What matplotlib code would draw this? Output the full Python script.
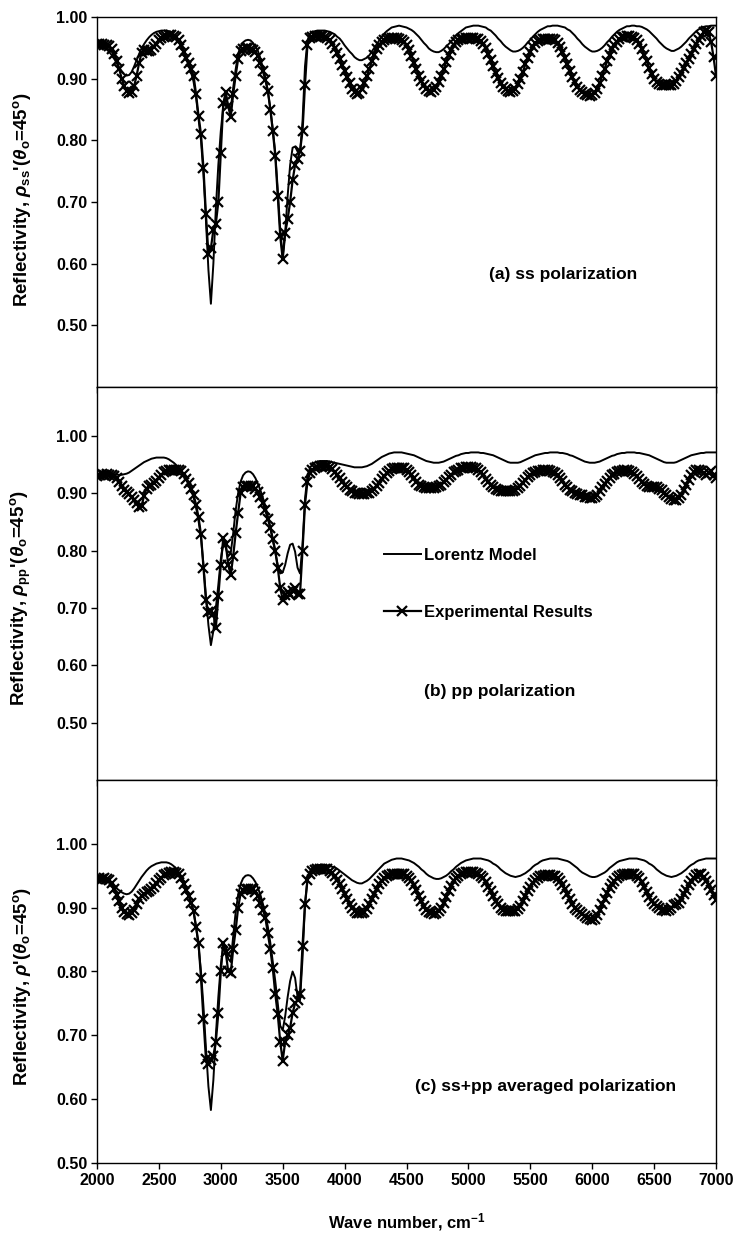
import numpy as np
import matplotlib
matplotlib.use("Agg")
import matplotlib.pyplot as plt
from matplotlib.ticker import FormatStrFormatter

plt.rcParams['font.family'] = ['Liberation Sans', 'DejaVu Sans']
plt.rcParams['font.weight'] = 'bold'
plt.rcParams['mathtext.fontset'] = 'custom'
plt.rcParams['mathtext.rm'] = 'Liberation Sans'
plt.rcParams['mathtext.it'] = 'Liberation Sans:italic'
plt.rcParams['mathtext.bf'] = 'Liberation Sans:bold'

# Wave numbers (cm^-1), sampled every 20 cm^-1
WAVE = np.arange(2000, 7001, 20)

# ---------- (a) ss polarization ----------
EXP_SS = [
    0.957, 0.957, 0.956, 0.955, 0.955, 0.953, 0.948, 0.940, 0.928, 0.915,
    0.900, 0.888, 0.880, 0.877, 0.878, 0.888, 0.905, 0.925, 0.942, 0.946,
    0.945, 0.945, 0.947, 0.952, 0.957, 0.962, 0.966, 0.968, 0.970, 0.971,
    0.971, 0.970, 0.968, 0.962, 0.955, 0.944, 0.933, 0.925, 0.915, 0.905,
    0.875, 0.840, 0.810, 0.755, 0.680, 0.615, 0.625, 0.655, 0.665, 0.700,
    0.780, 0.860, 0.878, 0.855, 0.838, 0.875, 0.905, 0.932, 0.945, 0.948,
    0.949, 0.949, 0.948, 0.947, 0.944, 0.937, 0.925, 0.912, 0.898, 0.880,
    0.850, 0.815, 0.775, 0.710, 0.645, 0.607, 0.650, 0.672, 0.700, 0.735,
    0.760, 0.770, 0.782, 0.815, 0.890, 0.955, 0.966, 0.968, 0.969, 0.970,
    0.970, 0.969, 0.968, 0.966, 0.962, 0.957, 0.950, 0.942, 0.932, 0.922,
    0.912, 0.902, 0.893, 0.884, 0.878, 0.875, 0.877, 0.884, 0.893, 0.904,
    0.916, 0.928, 0.939, 0.948, 0.955, 0.960, 0.963, 0.965, 0.966, 0.966,
    0.966, 0.966, 0.965, 0.963, 0.959, 0.954, 0.946, 0.937, 0.926, 0.915,
    0.905, 0.896, 0.889, 0.884, 0.880, 0.879, 0.881, 0.886, 0.894, 0.904,
    0.915, 0.927, 0.938, 0.947, 0.954, 0.959, 0.962, 0.964, 0.965, 0.966,
    0.966, 0.966, 0.966, 0.965, 0.964, 0.961, 0.956, 0.949, 0.940, 0.930,
    0.920, 0.910, 0.901, 0.893, 0.887, 0.883, 0.880, 0.879, 0.880, 0.884,
    0.891, 0.900, 0.911, 0.923, 0.934, 0.944, 0.952, 0.958, 0.961, 0.963,
    0.964, 0.965, 0.965, 0.965, 0.964, 0.962, 0.958, 0.952, 0.944, 0.934,
    0.923, 0.912, 0.902, 0.894, 0.887, 0.882, 0.878, 0.875, 0.873, 0.872,
    0.873, 0.877, 0.884, 0.893, 0.904, 0.916, 0.928, 0.939, 0.948, 0.955,
    0.960, 0.964, 0.967, 0.968, 0.969, 0.969, 0.968, 0.966, 0.962, 0.956,
    0.948, 0.938, 0.928, 0.918, 0.908, 0.900, 0.895, 0.892, 0.890, 0.889,
    0.889, 0.890, 0.890, 0.892, 0.896, 0.903, 0.910, 0.918, 0.925, 0.932,
    0.940, 0.948, 0.956, 0.963, 0.970, 0.975, 0.977, 0.975, 0.960, 0.935,
    0.905,
]
MODEL_SS = [
    0.955, 0.954, 0.952, 0.950, 0.947, 0.943, 0.938, 0.932, 0.925, 0.918,
    0.912, 0.907, 0.905, 0.906, 0.911, 0.920, 0.930, 0.940, 0.949, 0.956,
    0.962, 0.967, 0.971, 0.974, 0.976, 0.977, 0.978, 0.978, 0.978, 0.977,
    0.975, 0.972, 0.967, 0.960, 0.952, 0.942, 0.932, 0.922, 0.910, 0.895,
    0.870, 0.835, 0.800, 0.745, 0.670, 0.590, 0.535, 0.600, 0.690, 0.760,
    0.815, 0.855, 0.870, 0.855, 0.850, 0.885, 0.915, 0.940, 0.953, 0.959,
    0.962, 0.963, 0.962, 0.958, 0.952, 0.945, 0.932, 0.918, 0.902, 0.880,
    0.852, 0.818, 0.780, 0.720, 0.655, 0.612, 0.650, 0.710, 0.760, 0.788,
    0.790, 0.782, 0.780, 0.830, 0.920, 0.962, 0.973, 0.976, 0.977, 0.978,
    0.978, 0.978, 0.978, 0.977, 0.976, 0.974, 0.972, 0.968, 0.965, 0.960,
    0.954, 0.949, 0.944, 0.940, 0.935, 0.932, 0.930, 0.930, 0.932, 0.934,
    0.938, 0.944, 0.950, 0.956, 0.962, 0.968, 0.973, 0.977, 0.980, 0.983,
    0.984, 0.985, 0.986, 0.985, 0.984, 0.983, 0.981, 0.979, 0.976, 0.972,
    0.968, 0.963, 0.958, 0.954, 0.949, 0.946, 0.944, 0.943, 0.943, 0.945,
    0.948, 0.952, 0.956, 0.960, 0.965, 0.970, 0.974, 0.977, 0.980, 0.983,
    0.984, 0.985, 0.986, 0.986, 0.986, 0.985, 0.984, 0.983, 0.980, 0.978,
    0.974, 0.970, 0.965, 0.961, 0.956, 0.952, 0.949, 0.946, 0.944, 0.944,
    0.945, 0.947, 0.950, 0.954, 0.959, 0.963, 0.968, 0.972, 0.976, 0.979,
    0.981, 0.983, 0.985, 0.985, 0.986, 0.986, 0.986, 0.985, 0.984, 0.983,
    0.980, 0.978, 0.974, 0.970, 0.965, 0.961, 0.956, 0.952, 0.949, 0.946,
    0.944, 0.944, 0.945, 0.947, 0.950, 0.954, 0.959, 0.963, 0.968, 0.972,
    0.976, 0.979, 0.981, 0.983, 0.985, 0.985, 0.986, 0.986, 0.985, 0.985,
    0.984, 0.982, 0.980, 0.977, 0.973, 0.969, 0.965, 0.960, 0.956, 0.952,
    0.949, 0.947, 0.945, 0.945, 0.947, 0.949, 0.952, 0.956, 0.960, 0.965,
    0.969, 0.973, 0.977, 0.980, 0.982, 0.984, 0.985, 0.985, 0.986, 0.986,
    0.986,
]

# ---------- (b) pp polarization ----------
EXP_PP = [
    0.930, 0.932, 0.933, 0.932, 0.933, 0.932, 0.931, 0.930, 0.927, 0.920,
    0.912, 0.906, 0.902, 0.898, 0.893, 0.888, 0.882, 0.876, 0.878, 0.895,
    0.908, 0.913, 0.915, 0.918, 0.922, 0.927, 0.932, 0.936, 0.938, 0.940,
    0.941, 0.941, 0.941, 0.940, 0.938, 0.933, 0.925, 0.917, 0.908, 0.897,
    0.880, 0.858, 0.828, 0.770, 0.713, 0.692, 0.694, 0.690, 0.665, 0.720,
    0.775, 0.822, 0.812, 0.775, 0.757, 0.790, 0.830, 0.866, 0.900, 0.910,
    0.912, 0.913, 0.913, 0.912, 0.908, 0.902, 0.893, 0.882, 0.870, 0.855,
    0.840, 0.820, 0.800, 0.770, 0.735, 0.714, 0.722, 0.728, 0.722, 0.730,
    0.735, 0.725, 0.725, 0.800, 0.880, 0.920, 0.935, 0.941, 0.944, 0.946,
    0.948, 0.948, 0.948, 0.947, 0.945, 0.942, 0.937, 0.932, 0.926, 0.920,
    0.914, 0.910, 0.906, 0.903, 0.901, 0.900, 0.899, 0.899, 0.899, 0.900,
    0.901, 0.903, 0.907, 0.912, 0.918, 0.924, 0.930, 0.935, 0.939, 0.942,
    0.943, 0.944, 0.944, 0.944, 0.943, 0.941, 0.937, 0.932, 0.926, 0.920,
    0.915, 0.912, 0.910, 0.909, 0.909, 0.909, 0.909, 0.910, 0.912, 0.915,
    0.919, 0.923, 0.928, 0.932, 0.936, 0.939, 0.941, 0.943, 0.944, 0.945,
    0.945, 0.945, 0.944, 0.943, 0.940, 0.936, 0.931, 0.925, 0.919, 0.914,
    0.910, 0.907, 0.905, 0.904, 0.903, 0.903, 0.903, 0.903, 0.904, 0.906,
    0.909, 0.913, 0.918, 0.923, 0.928, 0.932, 0.935, 0.937, 0.938, 0.939,
    0.940, 0.940, 0.940, 0.939, 0.937, 0.935, 0.931, 0.926, 0.921, 0.915,
    0.910, 0.906, 0.903, 0.901, 0.899, 0.897, 0.896, 0.894, 0.893, 0.892,
    0.891, 0.893, 0.897, 0.903, 0.910, 0.916, 0.922, 0.927, 0.931, 0.934,
    0.936, 0.938, 0.939, 0.940, 0.940, 0.939, 0.937, 0.934, 0.930, 0.925,
    0.920, 0.916, 0.913, 0.911, 0.910, 0.910, 0.910, 0.908, 0.905, 0.901,
    0.897, 0.893, 0.890, 0.888, 0.888, 0.891, 0.897, 0.905, 0.914, 0.923,
    0.931, 0.937, 0.940, 0.940, 0.938, 0.935, 0.932, 0.935, 0.938, 0.932,
    0.926,
]
MODEL_PP = [
    0.934, 0.934, 0.934, 0.934, 0.934, 0.933, 0.933, 0.932, 0.932, 0.932,
    0.932, 0.933, 0.934, 0.936, 0.939, 0.942, 0.945, 0.948, 0.951, 0.954,
    0.956, 0.958, 0.960, 0.961, 0.962, 0.962, 0.962, 0.962, 0.961, 0.959,
    0.956, 0.953, 0.949, 0.944, 0.938, 0.932, 0.924, 0.915, 0.905, 0.893,
    0.875, 0.852, 0.822, 0.775, 0.720, 0.670, 0.635, 0.660, 0.700, 0.740,
    0.785, 0.812, 0.805, 0.790, 0.795, 0.830, 0.870, 0.900, 0.920, 0.931,
    0.936, 0.938, 0.937, 0.933, 0.926, 0.916, 0.905, 0.892, 0.877, 0.860,
    0.840, 0.818, 0.795, 0.775, 0.760, 0.762, 0.775, 0.795, 0.810, 0.812,
    0.798, 0.770, 0.760, 0.810, 0.890, 0.930, 0.944, 0.950, 0.953, 0.955,
    0.956, 0.956, 0.956, 0.956, 0.955, 0.954, 0.953, 0.952, 0.951, 0.950,
    0.949, 0.948, 0.947, 0.946, 0.945, 0.945, 0.945, 0.945, 0.946, 0.947,
    0.949, 0.951, 0.954, 0.957, 0.960, 0.963, 0.965, 0.967, 0.969, 0.970,
    0.971, 0.971, 0.971, 0.971, 0.970, 0.969, 0.968, 0.967, 0.966, 0.964,
    0.962, 0.960, 0.958, 0.956, 0.955, 0.954, 0.953, 0.953, 0.953, 0.954,
    0.955, 0.957, 0.959, 0.961, 0.963, 0.965, 0.966, 0.968, 0.969, 0.970,
    0.970, 0.971, 0.971, 0.971, 0.971, 0.970, 0.970, 0.969, 0.968, 0.967,
    0.966, 0.964, 0.962, 0.960, 0.958, 0.956, 0.954, 0.953, 0.953, 0.953,
    0.953, 0.954, 0.956, 0.958, 0.960, 0.962, 0.964, 0.966, 0.967, 0.968,
    0.969, 0.970, 0.970, 0.971, 0.971, 0.971, 0.971, 0.970, 0.970, 0.969,
    0.968, 0.966, 0.965, 0.963, 0.961, 0.959, 0.957, 0.955, 0.954, 0.953,
    0.953, 0.953, 0.954, 0.955, 0.957, 0.959, 0.961, 0.963, 0.965, 0.966,
    0.968, 0.969, 0.970, 0.970, 0.971, 0.971, 0.971, 0.971, 0.970, 0.970,
    0.969, 0.968, 0.967, 0.966, 0.964, 0.962, 0.960, 0.958, 0.956, 0.954,
    0.953, 0.953, 0.953, 0.953, 0.954, 0.956, 0.958, 0.960, 0.962, 0.964,
    0.966, 0.967, 0.968, 0.969, 0.970, 0.970, 0.971, 0.971, 0.971, 0.971,
    0.971,
]

# ---------- (c) ss+pp averaged polarization ----------
EXP_AVG = [
    0.945, 0.946, 0.945, 0.946, 0.945, 0.943, 0.938, 0.930, 0.920, 0.910,
    0.900, 0.893, 0.890, 0.889, 0.891, 0.897, 0.905, 0.913, 0.919, 0.922,
    0.924, 0.926, 0.929, 0.933, 0.938, 0.943, 0.947, 0.951, 0.953, 0.955,
    0.956, 0.956, 0.955, 0.952, 0.946, 0.937, 0.928, 0.918, 0.908, 0.895,
    0.870, 0.845, 0.790, 0.725, 0.663, 0.655, 0.662, 0.668, 0.690, 0.735,
    0.800, 0.845, 0.830, 0.800, 0.797, 0.835, 0.865, 0.900, 0.922, 0.928,
    0.930, 0.930, 0.930, 0.929, 0.925, 0.918, 0.908, 0.897, 0.884, 0.860,
    0.835, 0.805, 0.765, 0.733, 0.690, 0.660, 0.690, 0.700, 0.712, 0.735,
    0.750, 0.755, 0.765, 0.840, 0.905, 0.943, 0.953, 0.957, 0.959, 0.960,
    0.961, 0.961, 0.961, 0.960, 0.958, 0.955, 0.950, 0.944, 0.937, 0.929,
    0.921, 0.913, 0.906, 0.900, 0.895, 0.892, 0.891, 0.891, 0.893, 0.898,
    0.905, 0.913, 0.922, 0.930, 0.937, 0.942, 0.946, 0.949, 0.951, 0.952,
    0.953, 0.953, 0.953, 0.953, 0.952, 0.950, 0.947, 0.942, 0.935, 0.927,
    0.918, 0.910, 0.903, 0.897, 0.893, 0.891, 0.890, 0.891, 0.894, 0.900,
    0.908, 0.917, 0.926, 0.934, 0.941, 0.946, 0.950, 0.953, 0.955, 0.956,
    0.956, 0.956, 0.956, 0.955, 0.953, 0.950, 0.946, 0.940, 0.933, 0.926,
    0.918, 0.911, 0.905, 0.900, 0.897, 0.895, 0.894, 0.894, 0.894, 0.895,
    0.898, 0.903, 0.910, 0.918, 0.926, 0.933, 0.939, 0.944, 0.947, 0.949,
    0.950, 0.951, 0.951, 0.951, 0.950, 0.949, 0.946, 0.942, 0.936, 0.929,
    0.921, 0.913, 0.906, 0.900, 0.896, 0.893, 0.890, 0.887, 0.884, 0.882,
    0.881, 0.883, 0.888, 0.896, 0.905, 0.914, 0.923, 0.931, 0.937, 0.942,
    0.946, 0.949, 0.951, 0.952, 0.953, 0.953, 0.953, 0.952, 0.950, 0.946,
    0.940, 0.932, 0.924, 0.917, 0.911, 0.906, 0.902, 0.899, 0.897, 0.896,
    0.895, 0.896, 0.899, 0.904, 0.905, 0.908, 0.914, 0.921, 0.928, 0.935,
    0.941, 0.947, 0.951, 0.953, 0.952, 0.948, 0.942, 0.935, 0.928, 0.920,
    0.912,
]
MODEL_AVG = [
    0.945, 0.945, 0.944, 0.943, 0.941, 0.939, 0.936, 0.933, 0.930, 0.927,
    0.924, 0.922, 0.921, 0.922, 0.925, 0.930, 0.936, 0.942, 0.948, 0.953,
    0.958, 0.962, 0.965, 0.967, 0.969, 0.970, 0.971, 0.971, 0.971, 0.970,
    0.968, 0.965, 0.961, 0.956, 0.949, 0.940, 0.930, 0.920, 0.908, 0.893,
    0.870, 0.840, 0.800, 0.745, 0.680, 0.620, 0.583, 0.630, 0.700, 0.760,
    0.810, 0.840, 0.840, 0.820, 0.815, 0.855, 0.893, 0.920, 0.937, 0.946,
    0.950, 0.951, 0.950, 0.946, 0.940, 0.931, 0.920, 0.906, 0.890, 0.870,
    0.845, 0.815, 0.785, 0.750, 0.715, 0.708, 0.730, 0.760, 0.785, 0.800,
    0.790, 0.760, 0.755, 0.820, 0.905, 0.945, 0.957, 0.962, 0.965, 0.966,
    0.967, 0.967, 0.967, 0.966, 0.965, 0.964, 0.963, 0.961, 0.958, 0.955,
    0.952, 0.949, 0.946, 0.943, 0.941, 0.939, 0.938, 0.938, 0.940, 0.942,
    0.945, 0.949, 0.953, 0.957, 0.961, 0.965, 0.969, 0.971, 0.973, 0.975,
    0.976, 0.977, 0.977, 0.977, 0.976, 0.975, 0.974, 0.972, 0.970, 0.967,
    0.964, 0.960, 0.957, 0.953, 0.950, 0.948, 0.946, 0.945, 0.945, 0.946,
    0.948, 0.950, 0.953, 0.957, 0.960, 0.964, 0.967, 0.970, 0.972, 0.974,
    0.975, 0.976, 0.977, 0.977, 0.977, 0.977, 0.976, 0.975, 0.974, 0.972,
    0.969, 0.967, 0.964, 0.960, 0.957, 0.954, 0.952, 0.950, 0.949, 0.948,
    0.949, 0.950, 0.952, 0.954, 0.957, 0.960, 0.964, 0.967, 0.969, 0.972,
    0.974, 0.975, 0.976, 0.977, 0.977, 0.977, 0.977, 0.976, 0.975, 0.974,
    0.973, 0.971, 0.968, 0.965, 0.962, 0.958, 0.955, 0.953, 0.951, 0.949,
    0.948, 0.948, 0.949, 0.951, 0.953, 0.955, 0.958, 0.962, 0.965, 0.968,
    0.971, 0.973, 0.974, 0.975, 0.976, 0.977, 0.977, 0.977, 0.977, 0.976,
    0.975, 0.974, 0.972, 0.969, 0.967, 0.964, 0.960, 0.957, 0.954, 0.952,
    0.950, 0.949, 0.948, 0.949, 0.950, 0.952, 0.954, 0.957, 0.960, 0.964,
    0.967, 0.969, 0.972, 0.974, 0.975, 0.976, 0.977, 0.977, 0.977, 0.977,
    0.977,
]

XTICKS = list(range(2000, 7001, 500))
YTICKS = [0.50, 0.60, 0.70, 0.80, 0.90, 1.00]

YLABELS = [
    r"Reflectivity, $\rho_{\mathrm{ss}}$'($\theta_{\mathrm{o}}$=45$^{\mathrm{o}}$)",
    r"Reflectivity, $\rho_{\mathrm{pp}}$'($\theta_{\mathrm{o}}$=45$^{\mathrm{o}}$)",
    r"Reflectivity, $\rho$'($\theta_{\mathrm{o}}$=45$^{\mathrm{o}}$)",
]
PANEL_TEXT = ["(a) ss polarization", "(b) pp polarization",
              "(c) ss+pp averaged polarization"]

# ---------- layout (pixel geometry of the reference) ----------
FW, FH = 735, 1237
fig = plt.figure(figsize=(FW / 100, FH / 100), dpi=100)
left, width = 97 / FW, 619 / FW
bounds = [(17, 387), (387, 780), (780, 1163)]
axes = [fig.add_axes([left, 1 - b / FH, width, (b - t) / FH]) for t, b in bounds]

ylims = [(0.40, 1.00), (0.40, 1.085), (0.50, 1.10)]
label_y = [0.505, 0.463, 0.462]
text_pos = [(5764, 0.582), (5254, 0.555), (5620, 0.62)]
series = [(EXP_SS, MODEL_SS), (EXP_PP, MODEL_PP), (EXP_AVG, MODEL_AVG)]

for i, ax in enumerate(axes):
    exp, mod = series[i]
    ax.plot(WAVE, exp, color='black', lw=1.6, marker='x', ms=7, mew=1.6,
            label='Experimental Results', zorder=2)
    ax.plot(WAVE, mod, color='black', lw=1.4, label='Lorentz Model', zorder=3)
    ax.set_xlim(2000, 7000)
    ax.set_ylim(*ylims[i])
    ax.set_xticks(XTICKS)
    ax.set_yticks(YTICKS)
    ax.yaxis.set_major_formatter(FormatStrFormatter('%.2f'))
    ax.tick_params(direction='out', length=4, width=1, labelsize=11.5, pad=3)
    for sp in ax.spines.values():
        sp.set_linewidth(1.0)
        sp.set_color('black')
    if i < 2:
        ax.tick_params(axis='x', labelbottom=False)
    for lab in ax.get_xticklabels() + ax.get_yticklabels():
        lab.set_fontweight('bold')
    ax.set_ylabel(YLABELS[i], fontsize=13.5, fontweight='bold')
    ax.yaxis.set_label_coords(-0.103, label_y[i])
    ax.text(text_pos[i][0], text_pos[i][1], PANEL_TEXT[i], ha='center',
            va='center', fontsize=12.5, fontweight='bold')

# legend in middle panel
h, l = axes[1].get_legend_handles_labels()
axes[1].legend([h[1], h[0]], [l[1], l[0]], loc='upper left',
               bbox_to_anchor=(0.4637, 0.59), frameon=False, handlelength=2.2,
               handletextpad=0.2, labelspacing=2.5, borderpad=0, borderaxespad=0,
               prop={'size': 12, 'weight': 'bold'})

axes[2].set_xlabel("Wave number, cm$^{-1}$", fontsize=12, fontweight='bold')
axes[2].xaxis.set_label_coords(0.5, -0.125)

fig.savefig("out.png", dpi=100)
